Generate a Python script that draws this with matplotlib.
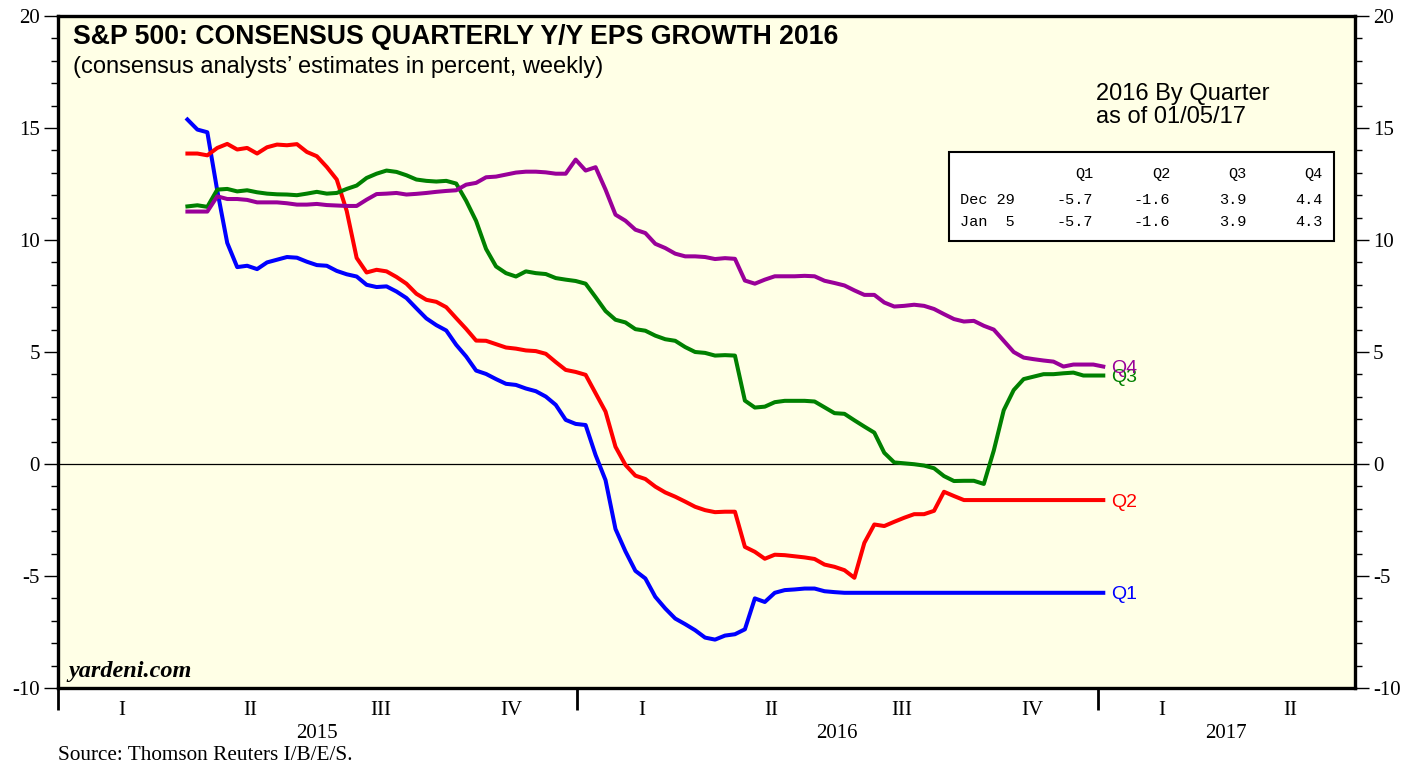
import matplotlib
matplotlib.use("Agg")
import matplotlib.pyplot as plt
import matplotlib.dates as mdates
from matplotlib.patches import Rectangle
from matplotlib.ticker import MultipleLocator, FixedLocator, NullFormatter
import pandas as pd

# ---------------- data ----------------
start_date = "2015-04-02"   # weekly observations (Thursdays) through 2017-01-05
n_weeks = 93

q1 = [15.38, 14.93, 14.81, 12.2, 9.87, 8.79, 8.85, 8.70, 9.0, 9.12,
      9.24, 9.21, 9.03, 8.88, 8.85, 8.62, 8.47, 8.37, 8.0, 7.9,
      7.93, 7.70, 7.41, 6.95, 6.5, 6.2, 5.96, 5.32, 4.80, 4.17,
      4.02, 3.79, 3.58, 3.53, 3.37, 3.25, 3.01, 2.64, 1.97, 1.79,
      1.74, 0.40, -0.72, -2.9, -3.9, -4.77, -5.11, -5.93, -6.45, -6.90,
      -7.15, -7.42, -7.75, -7.84, -7.66, -7.60, -7.38, -6.0, -6.16, -5.75,
      -5.63, -5.60, -5.56, -5.56, -5.68, -5.72, -5.75, -5.75, -5.75, -5.75,
      -5.75, -5.75, -5.75, -5.75, -5.75, -5.75, -5.75, -5.75, -5.75, -5.75,
      -5.75, -5.75, -5.75, -5.75, -5.75, -5.75, -5.75, -5.75, -5.75, -5.75,
      -5.75, -5.75, -5.75]

q2 = [13.86, 13.86, 13.78, 14.11, 14.29, 14.04, 14.11, 13.86, 14.14, 14.26,
      14.23, 14.28, 13.93, 13.74, 13.26, 12.7, 11.3, 9.2, 8.55, 8.67,
      8.6, 8.35, 8.05, 7.6, 7.33, 7.24, 7.0, 6.51, 6.03, 5.51,
      5.5, 5.35, 5.2, 5.15, 5.07, 5.04, 4.92, 4.55, 4.2, 4.11,
      3.98, 3.16, 2.34, 0.77, -0.04, -0.52, -0.67, -1.01, -1.27, -1.46,
      -1.68, -1.91, -2.06, -2.15, -2.13, -2.13, -3.7, -3.92, -4.23, -4.05,
      -4.07, -4.12, -4.17, -4.24, -4.49, -4.59, -4.74, -5.08, -3.52, -2.7,
      -2.77, -2.58, -2.4, -2.24, -2.24, -2.09, -1.24, -1.43, -1.61, -1.61,
      -1.61, -1.61, -1.61, -1.61, -1.61, -1.61, -1.61, -1.61, -1.61, -1.61,
      -1.61, -1.61, -1.61]

q3 = [11.5, 11.55, 11.48, 12.25, 12.28, 12.17, 12.22, 12.13, 12.07, 12.04,
      12.03, 12.0, 12.07, 12.15, 12.07, 12.1, 12.28, 12.43, 12.77, 12.96,
      13.1, 13.04, 12.89, 12.7, 12.64, 12.61, 12.64, 12.52, 11.75, 10.85,
      9.6, 8.82, 8.52, 8.37, 8.6, 8.52, 8.48, 8.3, 8.23, 8.17,
      8.05, 7.45, 6.83, 6.44, 6.32, 6.02, 5.95, 5.73, 5.57, 5.5,
      5.22, 5.0, 4.96, 4.84, 4.86, 4.84, 2.83, 2.52, 2.56, 2.76,
      2.82, 2.82, 2.82, 2.79, 2.53, 2.27, 2.24, 1.95, 1.67, 1.4,
      0.5, 0.07, 0.03, -0.01, -0.07, -0.19, -0.54, -0.76, -0.75, -0.75,
      -0.89, 0.6, 2.4, 3.3, 3.79, 3.9, 4.01, 4.01, 4.05, 4.08,
      3.95, 3.95, 3.95]

q4 = [11.27, 11.27, 11.27, 11.95, 11.83, 11.83, 11.79, 11.68, 11.68, 11.68,
      11.64, 11.58, 11.58, 11.61, 11.56, 11.54, 11.52, 11.52, 11.8, 12.05,
      12.07, 12.1, 12.03, 12.06, 12.1, 12.15, 12.19, 12.22, 12.47, 12.55,
      12.8, 12.83, 12.92, 13.01, 13.05, 13.05, 13.02, 12.96, 12.96, 13.59,
      13.1, 13.25, 12.25, 11.13, 10.86, 10.46, 10.31, 9.83, 9.64, 9.39,
      9.27, 9.27, 9.24, 9.15, 9.19, 9.16, 8.19, 8.05, 8.23, 8.38,
      8.38, 8.38, 8.40, 8.38, 8.18, 8.08, 7.97, 7.75, 7.55, 7.55,
      7.21, 7.03, 7.06, 7.11, 7.06, 6.92, 6.69, 6.47, 6.36, 6.39,
      6.17, 6.0, 5.5, 5.0, 4.75, 4.68, 4.62, 4.57, 4.35, 4.44,
      4.44, 4.44, 4.35]

series_names = ["Q1", "Q2", "Q3", "Q4"]
series_colors = ["#0000FF", "#FF0000", "#008000", "#990099"]

table_cols = ["Q1", "Q2", "Q3", "Q4"]
table_rows = ["Dec 29", "Jan  5"]
table_vals = [[-5.7, -1.6, 3.9, 4.4],
              [-5.7, -1.6, 3.9, 4.3]]

quarter_labels = ["I", "II", "III", "IV"]
years = [2015, 2016, 2017]

# ---------------- figure ----------------
dates = pd.date_range(start_date, periods=n_weeks, freq="7D")

fig = plt.figure(figsize=(14.19, 7.68), dpi=100)
fig.patch.set_facecolor("white")
ax = fig.add_axes([58 / 1419, 80 / 768, 1297 / 1419, 672 / 768])
ax.set_facecolor("#FFFFE6")

serif = "Liberation Serif"
sans = "Liberation Sans"

for vals, name, col in zip([q1, q2, q3, q4], series_names, series_colors):
    ax.plot(dates, vals, color=col, lw=2.9, solid_joinstyle="round", zorder=3)
    ax.annotate(name, xy=(dates[-1], vals[-1]), xytext=(6, -1.5),
                textcoords="offset points", va="center", ha="left",
                color=col, fontsize=14, family=sans, zorder=4)

ax.axhline(0, color="black", lw=0.9, zorder=2)

x0 = pd.Timestamp("2015-01-01")
x1 = pd.Timestamp("2017-07-01")
ax.set_xlim(x0, x1)
ax.set_ylim(-10, 20)

for s in ax.spines.values():
    s.set_linewidth(2.4)

# y axis: both sides, outward ticks
ax.yaxis.set_major_locator(MultipleLocator(5))
ax.yaxis.set_minor_locator(MultipleLocator(1))
ax.yaxis.set_major_formatter(plt.FuncFormatter(lambda v, p: f"{int(v)}"))
ax.tick_params(axis="y", which="major", direction="out", length=10, width=1.0,
               left=True, right=True, labelleft=True, labelright=True,
               labelsize=15, pad=3)
ax.tick_params(axis="y", which="minor", direction="out", length=5, width=1.0,
               left=True, right=True)
for lab in ax.yaxis.get_ticklabels(which="major"):
    lab.set_family(serif)

# x axis: year boundary ticks, labels as text
year_bounds = [mdates.date2num(pd.Timestamp(f"{y}-01-01")) for y in years]
ax.xaxis.set_major_locator(FixedLocator(year_bounds))
ax.xaxis.set_major_formatter(NullFormatter())
ax.xaxis.set_minor_locator(FixedLocator([]))
ax.tick_params(axis="x", which="major", direction="out", length=16, width=2.0)

xt = ax.get_xaxis_transform()
qstarts = ["01-01", "04-01", "07-01", "10-01"]
qends = ["04-01", "07-01", "10-01", "01-01"]
for y in years:
    for qi, ql in enumerate(quarter_labels):
        if y == 2017 and qi > 1:
            continue
        a = pd.Timestamp(f"{y}-{qstarts[qi]}")
        b = pd.Timestamp(f"{y + (1 if qi == 3 else 0)}-{qends[qi]}")
        mid = a + (b - a) / 2
        ax.text(mid, -0.033, ql, transform=xt, ha="center", va="center",
                fontsize=15, family=serif)
    if y == 2017:
        mid = pd.Timestamp("2017-04-01")
    else:
        mid = pd.Timestamp(f"{y}-07-02")
    ax.text(mid, -0.067, str(y), transform=xt, ha="center", va="center",
            fontsize=15, family=serif)

# titles
ax.text(0.0116, 0.969, "S&P 500: CONSENSUS QUARTERLY Y/Y EPS GROWTH 2016",
        transform=ax.transAxes, ha="left", va="center", fontsize=19.2,
        fontweight="bold", family=sans)
ax.text(0.0116, 0.924, "(consensus analysts\u2019 estimates in percent, weekly)",
        transform=ax.transAxes, ha="left", va="center", fontsize=17,
        family=sans)
ax.text(0.8003, 0.884, "2016 By Quarter", transform=ax.transAxes,
        ha="left", va="center", fontsize=17, family=sans)
ax.text(0.8003, 0.850, "as of 01/05/17", transform=ax.transAxes,
        ha="left", va="center", fontsize=17, family=sans)

# table box
ax.add_patch(Rectangle((0.687, 0.665), 0.2968, 0.1326, transform=ax.transAxes,
                       facecolor="white", edgecolor="black", lw=1.5, zorder=5))
col_x = [0.798, 0.8574, 0.916, 0.9753]
row_y = [0.726, 0.693]
mono = "Liberation Mono"
for cx, cname in zip(col_x, table_cols):
    ax.text(cx, 0.765, cname, transform=ax.transAxes, ha="right", va="center",
            fontsize=11, family=mono, zorder=6)
for ry, rname, rvals in zip(row_y, table_rows, table_vals):
    ax.text(0.6955, ry, rname, transform=ax.transAxes, ha="left", va="center",
            fontsize=11, family=mono, zorder=6)
    for cx, v in zip(col_x, rvals):
        ax.text(cx, ry, f"{v:.1f}", transform=ax.transAxes, ha="right",
                va="center", fontsize=11, family=mono, zorder=6)

ax.text(0.0077, 0.024, "yardeni.com", transform=ax.transAxes, ha="left",
        va="center", fontsize=17.5, fontweight="bold", fontstyle="italic",
        family=serif)

fig.text(58 / 1419, 1 - 756 / 768, "Source: Thomson Reuters I/B/E/S.",
         ha="left", va="center", fontsize=15.3, family=serif)

fig.savefig("out.png", dpi=100)
